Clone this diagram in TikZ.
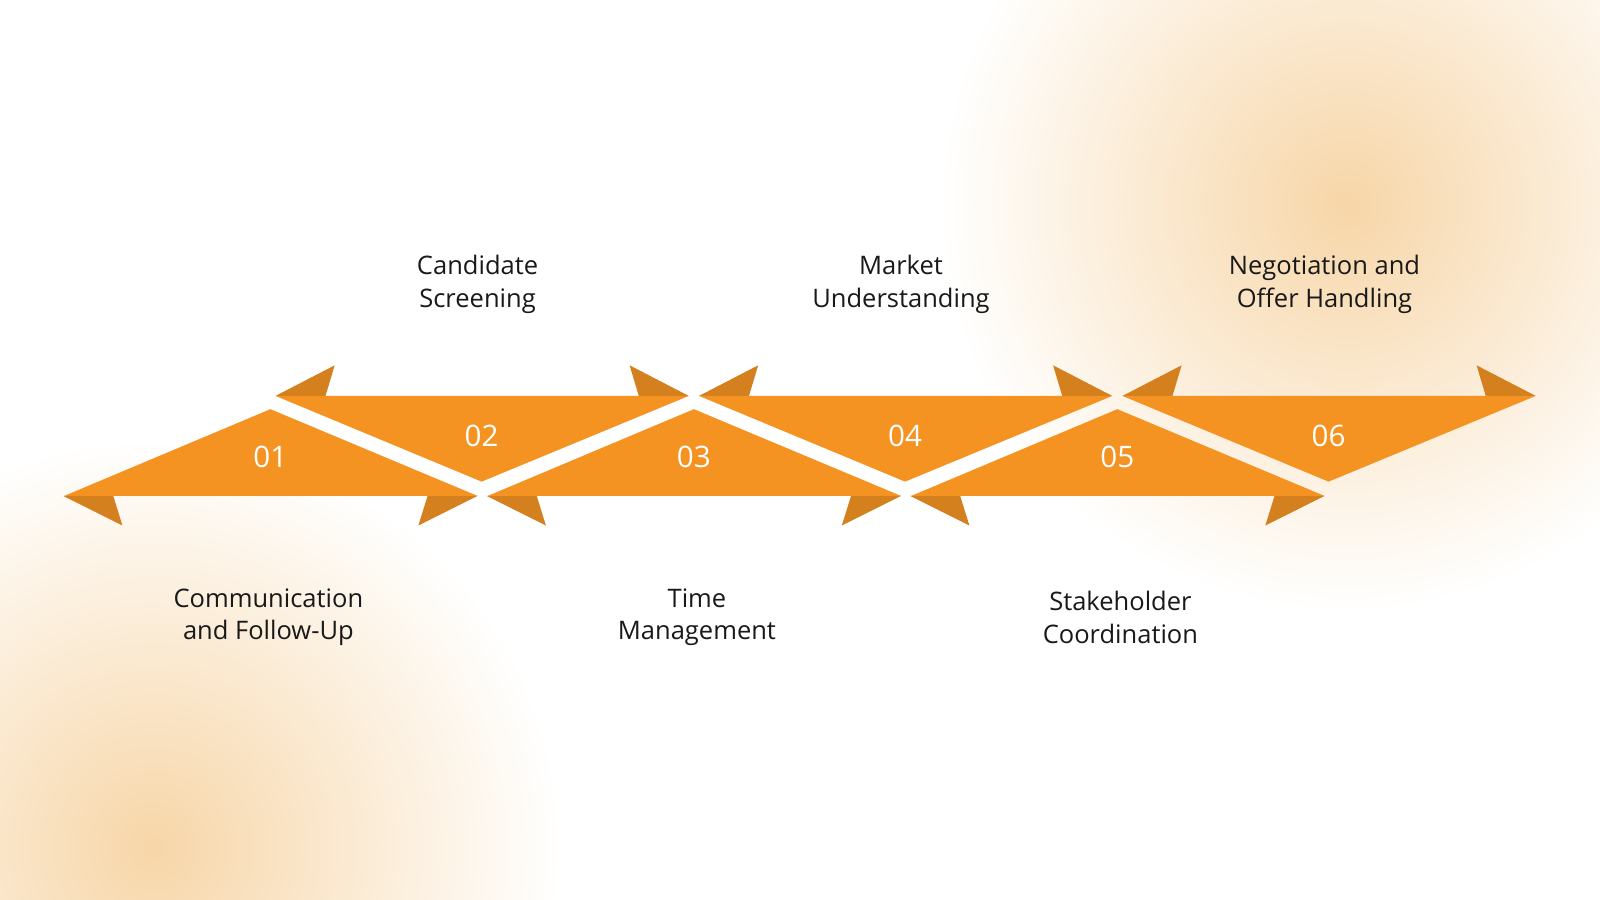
\documentclass[tikz,border=0pt]{standalone}
\usepackage{fontspec}
\setmainfont{Open Sans}
\begin{document}
\begin{tikzpicture}[x=0.5pt,y=-0.5pt]
\definecolor{org}{HTML}{F59322}
\definecolor{tab}{HTML}{D4801E}
\definecolor{glow}{HTML}{F7D6A8}
\tikzset{tri/.style={fill=org},tabs/.style={fill=tab},
 lbl/.style={align=center,font=\fontsize{12.5}{16}\selectfont,text=black!90},
 num/.style={font=\fontsize{14.5}{16}\selectfont,text=white}}
\useasboundingbox (0,0) rectangle (1568,882);
\fill[white] (0,0) rectangle (1568,882);
\begin{scope}
\clip (0,0) rectangle (1568,882);
\shade[inner color=glow,outer color=white] (1320,200) circle (400);
\shade[inner color=glow,outer color=white] (150,830) circle (400);
\end{scope}
% lower triangles (apex up)
\foreach \x/\n/\t/\dx in {63/01/{Communication\\and Follow-Up}/200,478/03/{Time\\Management}/205,893/05/{Stakeholder\\Coordination}/205}{
 \fill[tabs] (\x-1,486) -- (\x+48,486) -- (\x+57,515) -- cycle;
 \fill[tabs] (\x+405,486) -- (\x+356,486) -- (\x+347,515) -- cycle;
 \fill[tri] (\x,486) -- (\x+202,401) -- (\x+405,486) -- cycle;
 \node[num] (n\n) at (\x+202,448) {\n};
 \node[lbl] (l\n) at (\x+\dx,605) {\t};
}
% upper triangles (apex down)
\foreach \x/\n/\t in {270/02/{Candidate\\Screening},685/04/{Market\\Understanding},1100/06/{Negotiation and\\Offer Handling}}{
 \fill[tabs] (\x,388) -- (\x+58,358) -- (\x+49,388) -- cycle;
 \fill[tabs] (\x+405,388) -- (\x+347,358) -- (\x+356,388) -- cycle;
 \fill[tri] (\x,388) -- (\x+405,388) -- (\x+202,472) -- cycle;
 \node[num] (n\n) at (\x+202,427) {\n};
 \node[lbl] (l\n) at (\x+198,279) {\t};
}
\end{tikzpicture}
\end{document}
